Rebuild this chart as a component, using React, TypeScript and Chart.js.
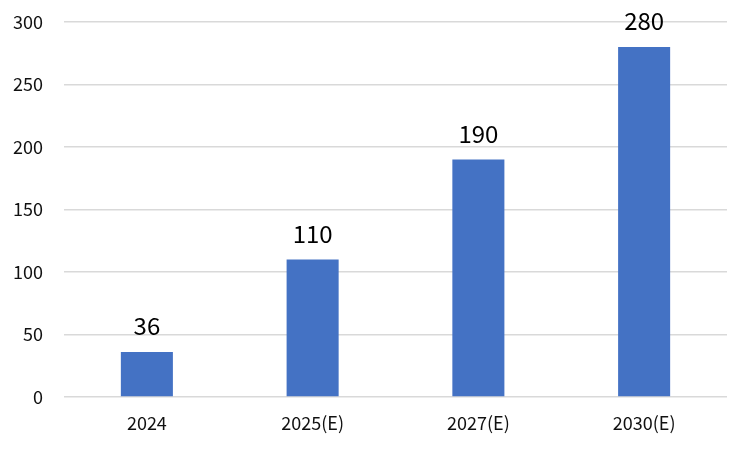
import { useEffect, useRef } from "react";
import { Chart, registerables } from "chart.js";

Chart.register(...registerables);

const categories = ["2024", "2025(E)", "2027(E)", "2030(E)"];
const values = [36, 110, 190, 280];
const yTicks = [0, 50, 100, 150, 200, 250, 300];

const FONT = "'Noto Sans CJK KR', 'Noto Sans', sans-serif";

// draws the value above each bar
const valueLabels = {
  id: "valueLabels",
  afterDatasetsDraw(chart: any) {
    const ctx = chart.ctx;
    const meta = chart.getDatasetMeta(0);
    ctx.save();
    ctx.font = `24px ${FONT}`;
    ctx.fillStyle = "#000";
    ctx.textAlign = "center";
    ctx.textBaseline = "alphabetic";
    meta.data.forEach((bar: any, i: number) => {
      ctx.fillText(String(values[i]), bar.x, bar.y - 17);
    });
    ctx.restore();
  },
};

export default function App() {
  const chartRef = useRef<HTMLCanvasElement>(null);
  const chartInstance = useRef<Chart | null>(null);

  useEffect(() => {
    if (!chartRef.current) return;
    if (chartInstance.current) chartInstance.current.destroy();

    const ctx = chartRef.current.getContext("2d");
    if (!ctx) return;

    chartInstance.current = new Chart(ctx, {
      type: "bar",
      data: {
        labels: categories,
        datasets: [
          {
            data: values,
            backgroundColor: "#4472C4",
            barPercentage: 0.314,
            categoryPercentage: 1,
          },
        ],
      },
      options: {
        responsive: false,
        animation: false,
        layout: { padding: { top: 22, right: 23, left: 0, bottom: 0 } },
        plugins: {
          legend: { display: false },
          tooltip: { enabled: false },
        },
        scales: {
          x: {
            grid: { display: false, drawTicks: false },
            border: { display: false },
            ticks: {
              padding: 15,
              color: "#111",
              font: { family: FONT, size: 18 },
            },
            afterFit: (scale: any) => {
              scale.height = 52;
              scale.paddingLeft = 0;
              scale.paddingRight = 0;
            },
          },
          y: {
            min: 0,
            max: 300,
            afterBuildTicks: (scale: any) => {
              scale.ticks = yTicks.map((v) => ({ value: v }));
            },
            grid: { color: "#d9d9d9", lineWidth: 1.5, drawTicks: false },
            border: { display: false },
            ticks: {
              padding: 21,
              color: "#111",
              font: { family: FONT, size: 18 },
            },
            afterFit: (scale: any) => {
              scale.width = 64;
              scale.paddingTop = 0;
              scale.paddingBottom = 0;
            },
          },
        },
      },
      plugins: [valueLabels],
    });

    return () => {
      if (chartInstance.current) {
        chartInstance.current.destroy();
        chartInstance.current = null;
      }
    };
  }, []);

  return (
    <div style={{ width: 750, height: 449, margin: -8, background: "#fff" }}>
      <canvas ref={chartRef} width={750} height={449} style={{ display: "block" }}></canvas>
    </div>
  );
}
